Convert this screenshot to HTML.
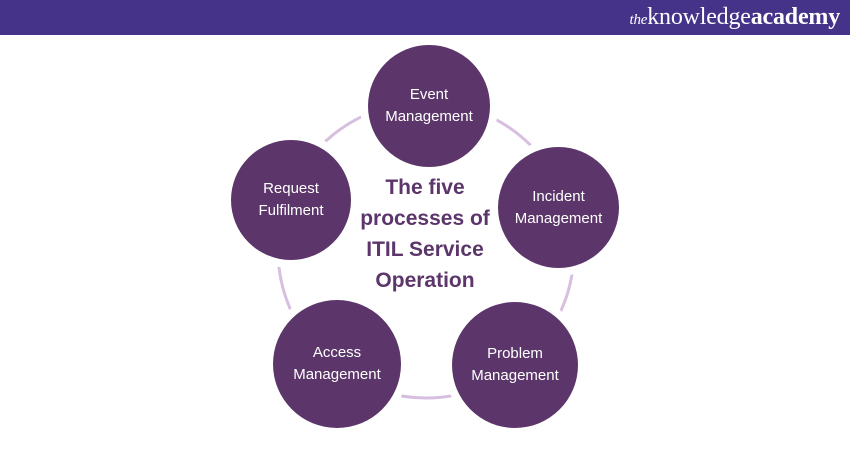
<!DOCTYPE html>
<html><head><style>
body{margin:0;width:850px;height:450px;overflow:hidden;background:#fff;font-family:"Liberation Sans",sans-serif}
.hdr{position:absolute;left:0;top:0;width:850px;height:35px;background:#45338a}
.logo{position:absolute;right:10px;top:4px;color:#fff;font-family:"Liberation Serif",serif;font-size:24px;letter-spacing:-0.2px}
.logo i{font-size:15px}
.c{position:absolute;border-radius:50%;background:#5c366a;color:#fff;display:flex;align-items:center;justify-content:center;text-align:center;font-size:15px;line-height:22px;box-shadow:0 0 0 8px #fff}
.t{position:absolute;left:315px;top:172px;width:220px;text-align:center;color:#5c366a;font-weight:bold;font-size:21px;line-height:31px}
</style></head><body>
<div class="hdr"><div class="logo"><i>the</i>knowledge<b>academy</b></div></div>
<svg style="position:absolute;left:0;top:0" width="850" height="450"><circle cx="426" cy="250" r="148" fill="none" stroke="#d7bfe0" stroke-width="3"/></svg>
<div class="c" style="left:368px;top:45px;width:122px;height:122px">Event<br>Management</div>
<div class="c" style="left:498px;top:147px;width:121px;height:121px">Incident<br>Management</div>
<div class="c" style="left:452px;top:302px;width:126px;height:126px">Problem<br>Management</div>
<div class="c" style="left:273px;top:300px;width:128px;height:128px">Access<br>Management</div>
<div class="c" style="left:231px;top:140px;width:120px;height:120px">Request<br>Fulfilment</div>
<div class="t">The five<br>processes of<br>ITIL Service<br>Operation</div>
</body></html>
